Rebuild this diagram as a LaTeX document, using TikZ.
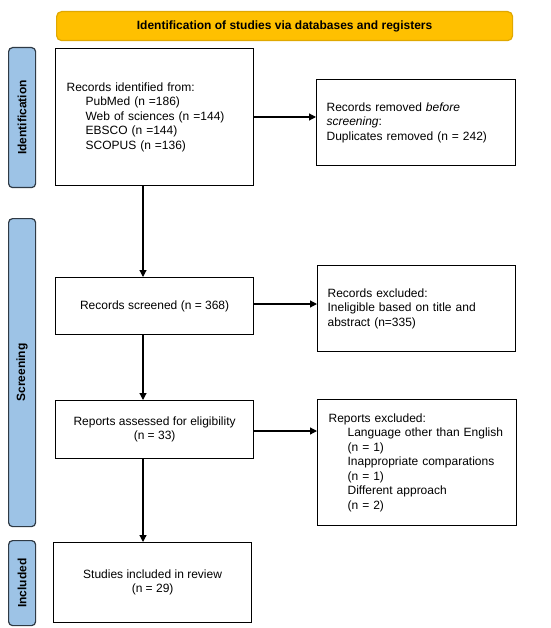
\documentclass[tikz,border=0pt]{standalone}
\usepackage{fontspec}
\setmainfont{Liberation Sans}
\usetikzlibrary{arrows.meta,calc}
\definecolor{banner}{HTML}{FFC000}
\definecolor{bannerline}{HTML}{E0A800}
\definecolor{side}{HTML}{9DC3E6}
\definecolor{sideline}{HTML}{2F3A45}
\begin{document}
\begin{tikzpicture}[x=1pt,y=1pt,
  box/.style={draw=black, line width=1.2pt, fill=white, inner sep=0pt, font=\fontsize{12}{14.5}\selectfont},
  lbox/.style={box, align=left, inner xsep=10pt, anchor=north west},
  cbox/.style={box, align=center, anchor=north west},
  sidebox/.style={draw=sideline, line width=1.2pt, fill=side, rounded corners=4pt, anchor=north west, inner sep=0pt},
  sidetext/.style={font=\fontsize{12}{14}\selectfont\bfseries, rotate=90},
  arr/.style={line width=1.2pt, -{Triangle[length=7pt,width=7pt]}}
]
\useasboundingbox (0,0) rectangle (550,-628);
\fill[white] (0,0) rectangle (550,-628);

% banner
\node[draw=bannerline, line width=1.2pt, fill=banner, rounded corners=5pt, anchor=north west,
  minimum width=456pt, minimum height=29pt, inner sep=0pt,
  font=\fontsize{12}{14}\selectfont\bfseries] (banner) at (56,-11) {Identification of studies via databases and registers};

% side labels
\node[sidebox, minimum width=27pt, minimum height=140pt] (sid) at (8,-47) {};
\node[sidetext] (sidt) at (sid.center) {Identification};
\node[sidebox, minimum width=27pt, minimum height=308pt] (ssc) at (8,-218) {};
\node[sidetext] (ssct) at (ssc.center) {Screening};
\node[sidebox, minimum width=27pt, minimum height=85pt] (sin) at (8,-540) {};
\node[sidetext] (sint) at (sin.center) {Included};

% boxes
\node[lbox, inner xsep=11pt, text width=176pt, minimum height=137pt] (b1) at (55,-48) {Records identified from:\\
\hspace*{19pt}PubMed (n =186)\\
\hspace*{19pt}Web of sciences (n =144)\\
\hspace*{19pt}EBSCO (n =144)\\
\hspace*{19pt}SCOPUS (n =136)};

\node[lbox, text width=179pt, minimum height=86pt] (b2) at (316,-79) {Records removed \textit{before}\\ \textit{screening}:\\
Duplicates removed (n = 242)};

\node[cbox, minimum width=198pt, minimum height=57pt] (b3) at (55,-277) {Records screened (n = 368)};

\node[lbox, text width=178pt, minimum height=86pt] (b4) at (317,-265) {Records excluded:\\
Ineligible based on title and\\ abstract (n=335)};

\node[cbox, minimum width=198pt, minimum height=58pt] (b5) at (55,-400) {Reports assessed for eligibility\\ (n = 33)};

\node[lbox, inner xsep=11pt, text width=177pt, minimum height=126pt] (b6) at (317,-399) {Reports excluded:\\
\hspace*{19pt}Language other than English\\
\hspace*{19pt}(n = 1)\\
\hspace*{19pt}Inappropriate comparations\\
\hspace*{19pt}(n = 1)\\
\hspace*{19pt}Different approach\\
\hspace*{19pt}(n = 2)};

\node[cbox, minimum width=198pt, minimum height=80pt] (b7) at (53,-542) {Studies included in review\\ (n = 29)};

% connectors
\coordinate (c1) at ($(b1.south west)+(88,0)$);
\coordinate (c3) at ($(b3.south west)+(88,0)$);
\coordinate (c5) at ($(b5.south west)+(88,0)$);
\draw[arr] (c1) -- (c1 |- b3.north);
\draw[arr] (c3) -- (c3 |- b5.north);
\draw[arr] (c5) -- (c5 |- b7.north);

\coordinate (h1) at ($(b1.north east)+(0,-69)$);
\coordinate (h3) at ($(b3.north east)+(0,-27)$);
\coordinate (h5) at ($(b5.north east)+(0,-31)$);
\draw[arr] (h1) -- (h1 -| b2.west);
\draw[arr] (h3) -- (h3 -| b4.west);
\draw[arr] (h5) -- (h5 -| b6.west);
\end{tikzpicture}
\end{document}
